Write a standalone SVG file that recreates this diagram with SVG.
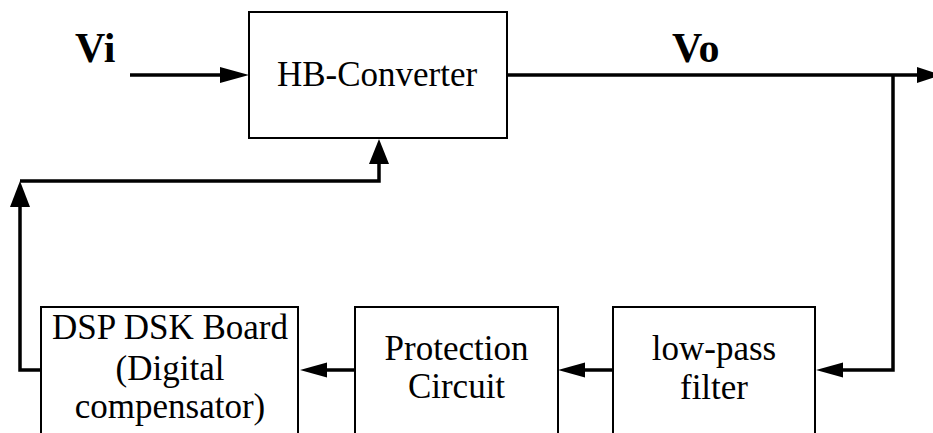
<svg xmlns="http://www.w3.org/2000/svg" width="933" height="433" viewBox="0 0 933 433">
<style>
.box{fill:#fff;stroke:#000;stroke-width:2}
.t{font-family:'Liberation Serif','Times New Roman',Times,'DejaVu Serif',serif;font-size:35px;fill:#000;text-anchor:middle}
.b{font-family:'Liberation Serif','Times New Roman',Times,'DejaVu Serif',serif;font-size:42px;font-weight:bold;fill:#000}
.w{fill:none;stroke:#000;stroke-width:3.5;stroke-linejoin:miter;stroke-linecap:butt}
.ah{fill:#000;stroke:none}
</style>
<rect width="933" height="433" fill="#fff"/>
<g id="connectors">
<line class="w" x1="130" y1="75" x2="222" y2="75"/>
<polygon class="ah" points="249,75 220,67 220,83"/>
<line class="w" x1="507" y1="75" x2="919" y2="75"/>
<polygon class="ah" points="941,75 917,67 917,83"/>
<polyline class="w" points="893,75 893,370 841,370"/>
<polygon class="ah" points="816,370 843,362.5 843,377.5"/>
<line class="w" x1="613" y1="370" x2="583" y2="370"/>
<polygon class="ah" points="558,370 585,362.5 585,377.5"/>
<line class="w" x1="355" y1="370" x2="325" y2="370"/>
<polygon class="ah" points="300,370 327,362.5 327,377.5"/>
<polyline class="w" points="41,370 20,370 20,205"/>
<polygon class="ah" points="20,181 10,207 30,207"/>
<polyline class="w" points="20,181 379,181 379,161"/>
<polygon class="ah" points="379,139 369,164 389,164"/>
</g>
<g id="hb-converter">
<rect class="box" x="249" y="12" width="258" height="126"/>
<text class="t" x="377" y="86" font-family="Liberation Serif, serif">HB-Converter</text>
</g>
<g id="label-vi"><text class="b" x="75" y="62">Vi</text></g>
<g id="label-vo"><text class="b" x="672" y="62">Vo</text></g>
<g id="dsp-board">
<rect class="box" x="41" y="307" width="257" height="140"/>
<text class="t" x="170" y="339">DSP DSK Board</text>
<text class="t" x="170" y="380">(Digital</text>
<text class="t" x="170" y="418">compensator)</text>
</g>
<g id="protection-circuit">
<rect class="box" x="355" y="307" width="203" height="140"/>
<text class="t" x="456.5" y="360">Protection</text>
<text class="t" x="456.5" y="398">Circuit</text>
</g>
<g id="low-pass-filter">
<rect class="box" x="613" y="307" width="202" height="140"/>
<text class="t" x="714" y="360">low-pass</text>
<text class="t" x="714" y="399">filter</text>
</g>
</svg>
